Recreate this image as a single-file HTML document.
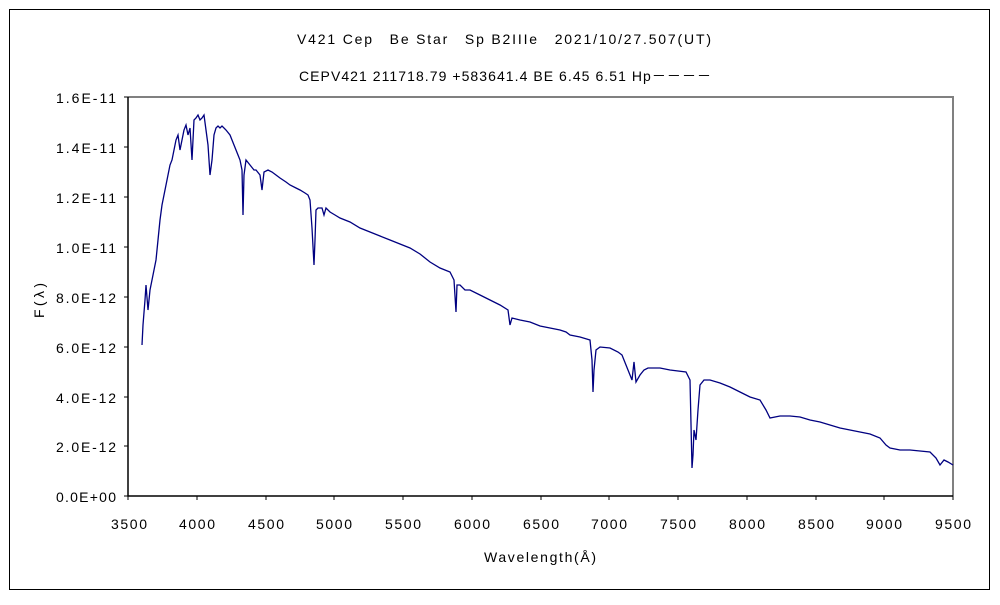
<!DOCTYPE html>
<html><head><meta charset="utf-8"><style>
body{margin:0;background:#fff}
svg text{font-family:"Liberation Sans","Noto Sans CJK JP",sans-serif;fill:#000}
</style></head><body>
<svg width="1000" height="600" viewBox="0 0 1000 600">
<rect x="0" y="0" width="1000" height="600" fill="#fff"/>
<rect x="9.5" y="9.5" width="980" height="580" fill="none" stroke="#000" stroke-width="1"/>
<text x="297" y="44" font-size="14" textLength="414" lengthAdjust="spacing">V421 Cep　Be Star　Sp B2IIIe　2021/10/27.507(UT)</text>
<text x="299" y="81" font-size="14" textLength="412" lengthAdjust="spacing">CEPV421 211718.79 +583641.4 BE 6.45 6.51 Hp－－－－</text>
<polyline points="128,97 953,97 953,496" fill="none" stroke="#808080" stroke-width="2"/>
<polyline points="128,97 128,496 953,496" fill="none" stroke="#000" stroke-width="1.5"/>
<g stroke="#000" stroke-width="1">
<line x1="124" y1="97" x2="128" y2="97"/><line x1="124" y1="147" x2="128" y2="147"/><line x1="124" y1="197" x2="128" y2="197"/><line x1="124" y1="247" x2="128" y2="247"/><line x1="124" y1="297" x2="128" y2="297"/><line x1="124" y1="347" x2="128" y2="347"/><line x1="124" y1="397" x2="128" y2="397"/><line x1="124" y1="446" x2="128" y2="446"/><line x1="124" y1="496" x2="128" y2="496"/>
<line x1="128" y1="496" x2="128" y2="500"/><line x1="197" y1="496" x2="197" y2="500"/><line x1="266" y1="496" x2="266" y2="500"/><line x1="334" y1="496" x2="334" y2="500"/><line x1="403" y1="496" x2="403" y2="500"/><line x1="472" y1="496" x2="472" y2="500"/><line x1="541" y1="496" x2="541" y2="500"/><line x1="609" y1="496" x2="609" y2="500"/><line x1="678" y1="496" x2="678" y2="500"/><line x1="747" y1="496" x2="747" y2="500"/><line x1="816" y1="496" x2="816" y2="500"/><line x1="884" y1="496" x2="884" y2="500"/><line x1="953" y1="496" x2="953" y2="500"/>
</g>
<g font-size="14">
<text x="56" y="103" textLength="60" lengthAdjust="spacing">1.6E-11</text><text x="56" y="153" textLength="60" lengthAdjust="spacing">1.4E-11</text><text x="56" y="203" textLength="60" lengthAdjust="spacing">1.2E-11</text><text x="56" y="253" textLength="60" lengthAdjust="spacing">1.0E-11</text><text x="56" y="303" textLength="60" lengthAdjust="spacing">8.0E-12</text><text x="56" y="353" textLength="60" lengthAdjust="spacing">6.0E-12</text><text x="56" y="403" textLength="60" lengthAdjust="spacing">4.0E-12</text><text x="56" y="452" textLength="60" lengthAdjust="spacing">2.0E-12</text><text x="56" y="502" textLength="60" lengthAdjust="spacing">0.0E+00</text>
</g>
<g font-size="14">
<text x="111" y="529" textLength="36" lengthAdjust="spacing">3500</text><text x="179" y="529" textLength="36" lengthAdjust="spacing">4000</text><text x="248" y="529" textLength="36" lengthAdjust="spacing">4500</text><text x="316" y="529" textLength="36" lengthAdjust="spacing">5000</text><text x="385" y="529" textLength="36" lengthAdjust="spacing">5500</text><text x="454" y="529" textLength="36" lengthAdjust="spacing">6000</text><text x="523" y="529" textLength="36" lengthAdjust="spacing">6500</text><text x="591" y="529" textLength="36" lengthAdjust="spacing">7000</text><text x="660" y="529" textLength="36" lengthAdjust="spacing">7500</text><text x="729" y="529" textLength="36" lengthAdjust="spacing">8000</text><text x="798" y="529" textLength="36" lengthAdjust="spacing">8500</text><text x="866" y="529" textLength="36" lengthAdjust="spacing">9000</text><text x="935" y="529" textLength="36" lengthAdjust="spacing">9500</text>
</g>
<text x="484" y="562" font-size="14" textLength="112" lengthAdjust="spacing">Wavelength(Å)</text>
<text x="0" y="0" font-size="14" textLength="35" lengthAdjust="spacing" transform="translate(44,318) rotate(-90)">F(λ)</text>
<polyline fill="none" stroke="#000080" stroke-width="1.3" points="142,345 143,325 145,300 146,285 148,310 150,290 152,280 154,270 156,260 158,240 160,220 162,205 164,195 166,185 168,175 170,165 172,160 174,150 176,140 178,135 180,150 182,140 184,130 186,125 188,135 190,128 192,160 194,120 196,118 198,115 200,120 202,118 204,115 206,130 208,145 210,175 212,160 214,135 216,128 218,126 220,128 222,126 226,130 230,135 234,145 238,155 240,160 242,170 243,215 244,175 246,160 250,165 254,170 256,170 260,175 262,190 264,172 268,170 272,172 276,175 280,178 286,182 290,185 296,188 300,190 305,193 308,195 310,200 312,228 314,265 315,240 316,210 318,208 322,208 324,215 326,208 330,212 335,215 340,218 350,222 360,228 370,232 380,236 390,240 400,244 410,248 420,254 430,262 440,268 450,272 454,280 456,312 457,285 460,285 465,290 470,290 480,295 490,300 500,305 508,310 510,325 512,318 520,320 530,322 540,326 550,328 560,330 566,332 570,335 580,337 590,340 592,360 593,392 594,370 596,350 600,347 610,348 618,352 622,355 630,375 632,380 634,362 636,382 640,375 644,370 648,368 660,368 670,370 686,372 690,380 692,468 693,455 694,430 696,440 698,410 700,385 704,380 710,380 720,383 730,387 740,392 750,397 760,400 766,410 770,418 780,416 790,416 800,417 810,420 820,422 830,425 840,428 850,430 860,432 870,434 880,438 886,445 890,448 900,450 910,450 920,451 930,452 936,458 940,465 944,460 948,462 953,465"/>
</svg>
</body></html>
